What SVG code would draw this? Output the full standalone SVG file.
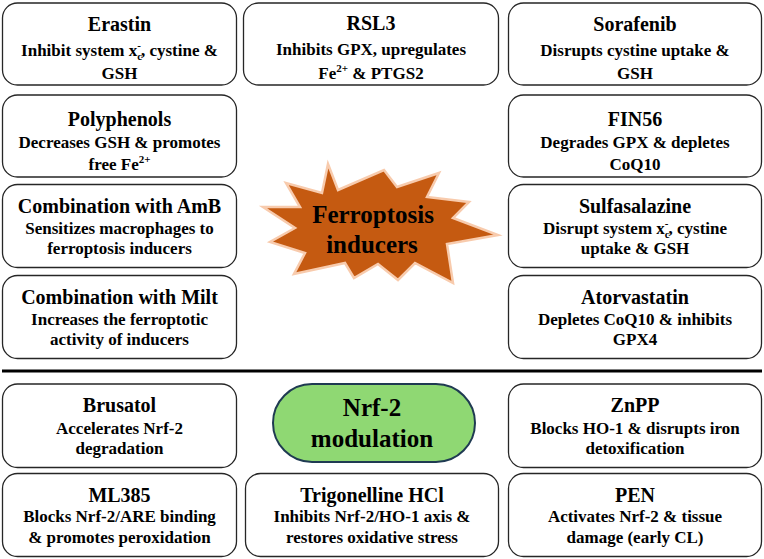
<svg xmlns="http://www.w3.org/2000/svg" width="764" height="559" viewBox="0 0 764 559">
<style>
.box{fill:#fff;stroke:#262626;stroke-width:1.3}
.t,.s,.big{font-family:'Liberation Serif','Times New Roman',serif;font-weight:bold;fill:#000;text-anchor:middle}
.t{font-size:20px}
.s{font-size:17px}
.sm{font-size:11px}
.big{font-size:25px}
</style>
<rect width="764" height="559" fill="#fff"/>
<g id="connectors">
<line x1="2" y1="371" x2="762" y2="371" stroke="#000" stroke-width="3"/>
</g>
<g id="erastin">
<rect class="box" x="2.5" y="3" width="234" height="82" rx="15"/>
<text class="t" x="119.5" y="31">Erastin</text>
<text class="s" x="119.5" y="56">Inhibit system x<tspan class="sm" dy="4">c</tspan><tspan class="sm" dx="-4.9" dy="-11">-</tspan><tspan dy="7">, cystine &amp;</tspan></text>
<text class="s" x="119.5" y="79">GSH</text>
</g>
<g id="rsl3">
<rect class="box" x="243.5" y="3" width="255" height="82" rx="15"/>
<text class="t" x="371" y="30">RSL3</text>
<text class="s" x="371" y="55">Inhibits GPX, upregulates</text>
<text class="s" x="371" y="79">Fe<tspan class="sm" dy="-7">2+</tspan><tspan dy="7"> &amp; PTGS2</tspan></text>
</g>
<g id="sorafenib">
<rect class="box" x="508.5" y="3" width="253" height="82" rx="15"/>
<text class="t" x="635" y="31">Sorafenib</text>
<text class="s" x="635" y="56">Disrupts cystine uptake &amp;</text>
<text class="s" x="635" y="79">GSH</text>
</g>
<g id="polyphenols">
<rect class="box" x="2.5" y="95" width="234" height="82" rx="15"/>
<text class="t" x="119.5" y="126">Polyphenols</text>
<text class="s" x="119.5" y="148">Decreases GSH &amp; promotes</text>
<text class="s" x="119.5" y="170">free Fe<tspan class="sm" dy="-7">2+</tspan></text>
</g>
<g id="fin56">
<rect class="box" x="508.5" y="95" width="253" height="82" rx="15"/>
<text class="t" x="635" y="126">FIN56</text>
<text class="s" x="635" y="148">Degrades GPX &amp; depletes</text>
<text class="s" x="635" y="170">CoQ10</text>
</g>
<g id="amb">
<rect class="box" x="2.5" y="184.5" width="234" height="83" rx="15"/>
<text class="t" x="119.5" y="213">Combination with AmB</text>
<text class="s" x="119.5" y="234">Sensitizes macrophages to</text>
<text class="s" x="119.5" y="254">ferroptosis inducers</text>
</g>
<g id="sulfasalazine">
<rect class="box" x="508.5" y="184.5" width="253" height="83" rx="15"/>
<text class="t" x="635" y="213">Sulfasalazine</text>
<text class="s" x="635" y="234">Disrupt system x<tspan class="sm" dy="4">c</tspan><tspan class="sm" dx="-4.9" dy="-11">-</tspan><tspan dy="7">, cystine</tspan></text>
<text class="s" x="635" y="254">uptake &amp; GSH</text>
</g>
<g id="milt">
<rect class="box" x="2.5" y="275.5" width="234" height="83" rx="15"/>
<text class="t" x="119.5" y="304">Combination with Milt</text>
<text class="s" x="119.5" y="325">Increases the ferroptotic</text>
<text class="s" x="119.5" y="345">activity of inducers</text>
</g>
<g id="atorvastatin">
<rect class="box" x="508.5" y="275.5" width="253" height="83" rx="15"/>
<text class="t" x="635" y="304">Atorvastatin</text>
<text class="s" x="635" y="325">Depletes CoQ10 &amp; inhibits</text>
<text class="s" x="635" y="345">GPX4</text>
</g>
<g id="ferroptosis-inducers">
<polygon points="328,164 338,190 384,170 397,187 439,173 427,197 469,202 453,218 498,235 447,244 453,283 415,263 398,280 378,264 354,278 345,263 294,274 305,253 270,242 295,228 263,207 300,207 286,183 322,193" fill="#C55A11" stroke="#F8CBAD" stroke-width="2.5" stroke-linejoin="miter"/>
<text class="big" x="373" y="223">Ferroptosis</text>
<text class="big" x="372" y="253">inducers</text>
</g>
<g id="brusatol">
<rect class="box" x="2.5" y="384" width="234" height="83.5" rx="15"/>
<text class="t" x="119.5" y="412">Brusatol</text>
<text class="s" x="119.5" y="434">Accelerates Nrf-2</text>
<text class="s" x="119.5" y="454">degradation</text>
</g>
<g id="nrf2-modulation">
<rect x="273" y="384" width="202" height="78" rx="39" fill="#8FD873" stroke="#1F3A52" stroke-width="2"/>
<text class="big" x="372" y="416">Nrf-2</text>
<text class="big" x="372" y="447">modulation</text>
</g>
<g id="znpp">
<rect class="box" x="508.5" y="384" width="253" height="83.5" rx="15"/>
<text class="t" x="635" y="412">ZnPP</text>
<text class="s" x="635" y="434">Blocks HO-1 &amp; disrupts iron</text>
<text class="s" x="635" y="454">detoxification</text>
</g>
<g id="ml385">
<rect class="box" x="2.5" y="473.5" width="234" height="83" rx="15"/>
<text class="t" x="119.5" y="502">ML385</text>
<text class="s" x="119.5" y="522">Blocks Nrf-2/ARE binding</text>
<text class="s" x="119.5" y="543">&amp; promotes peroxidation</text>
</g>
<g id="trigonelline">
<rect class="box" x="245.5" y="473.5" width="253" height="83" rx="15"/>
<text class="t" x="372" y="502">Trigonelline HCl</text>
<text class="s" x="372" y="522">Inhibits Nrf-2/HO-1 axis &amp;</text>
<text class="s" x="372" y="543">restores oxidative stress</text>
</g>
<g id="pen">
<rect class="box" x="508.5" y="473.5" width="253" height="83" rx="15"/>
<text class="t" x="635" y="502">PEN</text>
<text class="s" x="635" y="522">Activates Nrf-2 &amp; tissue</text>
<text class="s" x="635" y="543">damage (early CL)</text>
</g>
</svg>
